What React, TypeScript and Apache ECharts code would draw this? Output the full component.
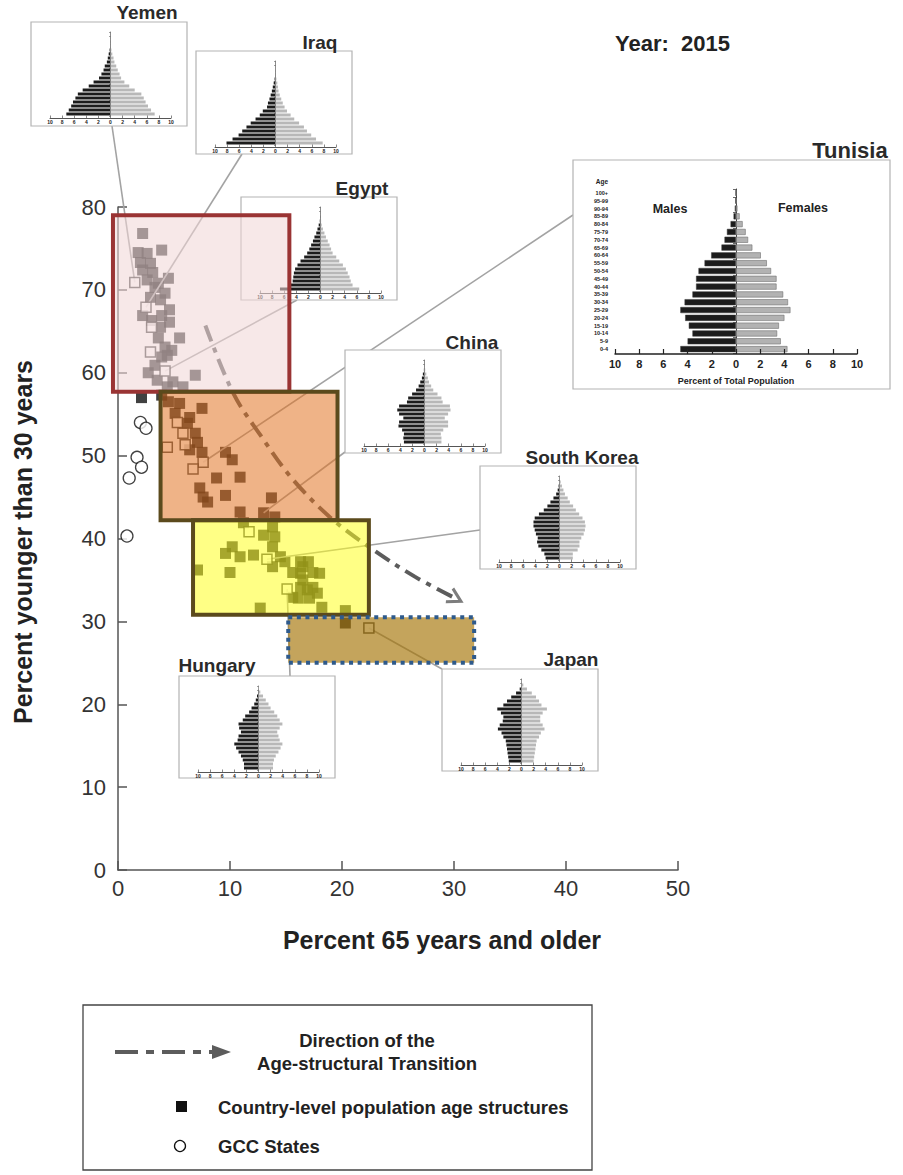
import React, { useEffect, useRef } from "react";
import * as echarts from "echarts";

const FONT = "'Liberation Sans', Arial, sans-serif";

const AGE_GROUPS = [
  "0-4", "5-9", "10-14", "15-19", "20-24", "25-29", "30-34", "35-39", "40-44", "45-49",
  "50-54", "55-59", "60-64", "65-69", "70-74", "75-79", "80-84", "85-89", "90-94", "95-99", "100+",
];

// [percent 65 and older, percent younger than 30]
const countryStructures: number[][] = [
  [2.2, 76.8], [3.9, 74.8], [1.8, 74.5], [2.6, 74.4], [2.0, 73.3], [2.9, 73.2], [2.2, 72.4],
  [3.1, 72.1], [4.5, 71.4], [2.6, 71.2], [3.6, 70.8], [4.2, 69.6], [2.9, 69.1], [3.3, 70.3],
  [3.8, 68.8], [2.2, 66.9], [4.6, 67.6], [3.9, 66.9], [3.0, 66.3], [4.6, 66.1], [3.8, 65.5],
  [5.5, 64.2], [3.6, 64.2], [4.2, 63.1], [4.8, 62.7], [3.9, 61.9], [4.4, 62.1], [2.7, 60.0],
  [3.3, 60.9], [6.9, 59.7], [3.5, 59.1], [4.9, 58.9], [4.4, 58.3], [5.8, 58.3],
  [2.1, 57.0], [3.9, 57.3],
  [4.5, 56.5], [5.5, 56.3], [7.5, 55.7], [5.1, 55.1], [6.4, 54.6], [6.2, 53.9], [6.9, 52.7],
  [7.1, 51.6], [7.5, 50.4], [6.4, 50.7], [9.6, 50.4], [10.2, 49.5], [8.8, 47.3], [10.9, 47.4],
  [7.3, 46.1], [7.6, 45.0], [8.0, 44.4], [9.6, 45.2], [13.7, 44.9], [10.9, 43.2], [13.0, 43.1],
  [14.0, 42.6],
  [11.2, 41.9], [13.8, 41.4], [13.0, 40.4], [14.0, 40.2], [10.2, 39.0], [9.6, 38.2], [10.9, 37.8],
  [12.1, 38.0], [13.8, 39.0], [14.5, 37.8], [13.8, 36.6], [14.9, 37.2], [16.3, 37.2], [16.5, 36.6],
  [17.0, 37.2], [17.4, 35.9], [18.0, 35.8], [16.3, 35.8], [15.6, 35.9], [16.5, 35.0], [17.4, 34.1],
  [16.9, 33.8], [16.3, 34.1], [17.8, 33.4], [17.1, 32.8], [16.1, 32.8], [15.6, 32.9], [18.2, 31.7],
  [7.1, 36.2], [10.0, 35.9], [12.7, 31.6], [20.3, 31.3],
  [20.3, 29.8],
];

// Countries shown as open squares (the profiled structures)
const profiledCountries: number[][] = [
  [1.5, 70.9], [2.5, 67.9], [3.0, 65.5], [2.9, 62.5], [4.2, 60.2],
  [5.3, 54.0], [5.8, 52.7], [6.0, 51.3], [4.4, 51.0], [7.6, 49.2], [6.7, 48.4],
  [11.7, 40.8], [13.3, 37.5], [15.1, 33.9], [22.4, 29.2],
];

const gccStates: number[][] = [
  [2.0, 54.0], [2.5, 53.3], [1.7, 49.8], [2.1, 48.6], [1.0, 47.3], [0.8, 40.3],
];

const transitionPath: number[][] = [
  [7.8, 65.7], [10.3, 57.5], [12.7, 52.5], [15.5, 47.3], [18.9, 42.6], [22.5, 38.9], [26.5, 35.4], [30.1, 32.8],
];

// Stage regions: [xMin, yMin, xMax, yMax]
const stageRegions: number[][] = [
  [-0.45, 57.7, 15.3, 79.0],
  [3.8, 42.2, 19.6, 57.7],
  [6.7, 30.8, 22.4, 42.2],
  [15.2, 25.0, 31.8, 30.5],
];
const stageFills = ["rgba(241,214,214,0.57)", "rgba(226,115,33,0.54)", "rgba(255,255,30,0.54)", "rgba(165,115,5,0.65)"];
const stageBorders = ["#9a3434", "#5b4a1c", "#5b4a1c", "#2e5a8c"];

// Population pyramids, percent of total population by five-year age group (0-4 .. 100+)
const yemenMales = [7.3, 6.9, 6.5, 6.2, 5.8, 5.4, 4.6, 3.6, 2.8, 1.9, 1.5, 1.15, 0.95, 0.6, 0.45, 0.3, 0.15, 0.08, 0.04, 0.02, 0.01];
const yemenFemales = [7.3, 6.7, 6.2, 5.8, 5.5, 5.1, 4.0, 3.1, 2.3, 1.75, 1.5, 1.2, 0.95, 0.65, 0.5, 0.3, 0.15, 0.08, 0.04, 0.02, 0.01];
const iraqMales = [8.1, 7.1, 6.1, 5.5, 4.8, 4.1, 3.3, 2.6, 2.1, 1.4, 1.25, 1.0, 0.8, 0.6, 0.45, 0.3, 0.15, 0.07, 0.03, 0.01, 0.01];
const iraqFemales = [7.8, 6.7, 5.9, 5.2, 4.7, 3.9, 3.1, 2.5, 1.9, 1.5, 1.2, 0.95, 0.7, 0.5, 0.4, 0.3, 0.15, 0.07, 0.03, 0.01, 0.01];
const egyptMales = [6.7, 4.9, 4.6, 4.5, 4.4, 4.2, 3.8, 3.3, 2.7, 2.2, 1.85, 1.55, 1.25, 1.0, 0.7, 0.5, 0.3, 0.12, 0.05, 0.02, 0.01];
const egyptFemales = [6.4, 5.3, 5.0, 4.8, 4.5, 4.2, 3.7, 3.1, 2.6, 2.0, 1.75, 1.5, 1.2, 0.9, 0.65, 0.4, 0.2, 0.1, 0.04, 0.02, 0.01];
const chinaMales = [3.4, 3.5, 3.4, 3.7, 4.3, 4.2, 3.5, 4.2, 4.5, 4.2, 2.9, 2.7, 2.05, 1.4, 0.97, 0.7, 0.43, 0.27, 0.1, 0.03, 0.01];
const chinaFemales = [2.8, 2.8, 2.7, 3.1, 3.9, 3.9, 3.35, 3.9, 4.3, 4.2, 3.0, 2.8, 2.15, 1.45, 1.1, 0.75, 0.55, 0.3, 0.12, 0.04, 0.01];
const koreaMales = [2.3, 2.5, 3.0, 3.5, 3.7, 3.6, 3.9, 4.1, 4.3, 4.3, 4.1, 3.4, 2.6, 2.0, 1.5, 1.0, 0.55, 0.3, 0.15, 0.05, 0.01];
const koreaFemales = [2.2, 2.2, 3.0, 3.3, 3.3, 3.6, 4.0, 4.2, 4.3, 4.2, 3.8, 3.25, 2.7, 2.25, 1.7, 1.35, 0.9, 0.65, 0.4, 0.2, 0.05];
const hungaryMales = [2.4, 2.4, 2.6, 2.9, 3.3, 3.7, 4.0, 3.45, 3.3, 2.9, 3.2, 3.3, 2.6, 2.2, 1.55, 1.15, 0.7, 0.45, 0.25, 0.08, 0.02];
const hungaryFemales = [2.4, 2.4, 2.55, 2.85, 3.3, 3.65, 3.95, 3.5, 3.3, 3.1, 3.5, 3.95, 3.5, 3.1, 2.6, 2.0, 1.65, 1.2, 0.75, 0.3, 0.08];
const japanMales = [2.1, 2.2, 2.3, 2.4, 2.5, 2.6, 3.0, 3.3, 3.9, 3.6, 3.1, 3.0, 3.4, 4.0, 3.0, 2.4, 1.7, 0.9, 0.3, 0.05, 0.01];
const japanFemales = [2.0, 2.1, 2.2, 2.3, 2.4, 2.5, 2.9, 3.2, 3.8, 3.5, 3.1, 3.1, 3.5, 4.2, 3.3, 2.9, 2.4, 1.7, 0.9, 0.3, 0.05];
const tunisiaMales = [4.6, 4.0, 3.6, 3.9, 4.2, 4.6, 4.25, 3.6, 3.3, 3.3, 3.1, 2.6, 2.05, 1.2, 0.95, 0.75, 0.45, 0.2, 0.1, 0.06, 0.03];
const tunisiaFemales = [4.25, 3.7, 3.4, 3.55, 4.0, 4.5, 4.3, 3.9, 3.35, 3.35, 2.9, 2.55, 2.05, 1.35, 1.0, 0.8, 0.55, 0.3, 0.12, 0.06, 0.03];

type Panel = {
  name: string;
  males: number[];
  females: number[];
  box: number[];
  label: number[];
  anchor: number[];
  target: number[];
  large?: boolean;
};

const pyramidPanels: Panel[] = [
  { name: "Yemen", males: yemenMales, females: yemenFemales, box: [31, 22, 156, 104], label: [147, 12], anchor: [112, 126], target: profiledCountries[0] },
  { name: "Iraq", males: iraqMales, females: iraqFemales, box: [196, 51, 156, 103], label: [320, 42], anchor: [242, 154], target: profiledCountries[1] },
  { name: "Egypt", males: egyptMales, females: egyptFemales, box: [241, 197, 156, 103], label: [362, 188], anchor: [297, 300], target: profiledCountries[4] },
  { name: "China", males: chinaMales, females: chinaFemales, box: [345, 350, 156, 103], label: [472, 342], anchor: [345, 452], target: countryStructures[56] },
  { name: "South Korea", males: koreaMales, females: koreaFemales, box: [480, 466, 156, 103], label: [582, 457], anchor: [480, 530], target: profiledCountries[12] },
  { name: "Hungary", males: hungaryMales, females: hungaryFemales, box: [179, 676, 156, 102], label: [217, 665], anchor: [290, 676], target: profiledCountries[13] },
  { name: "Japan", males: japanMales, females: japanFemales, box: [442, 669, 156, 102], label: [571, 659], anchor: [442, 669], target: profiledCountries[14] },
  { name: "Tunisia", males: tunisiaMales, females: tunisiaFemales, box: [573, 160, 317, 229], label: [850, 150], anchor: [573, 215], target: profiledCountries[9], large: true },
];

function buildOption() {
  const grids: any[] = [{ left: 118, top: 207, width: 560, height: 663 }];
  const xAxes: any[] = [
    {
      gridIndex: 0, type: "value", min: 0, max: 50, interval: 10,
      axisLine: { show: true, lineStyle: { color: "#555", width: 1.5 } },
      axisTick: { show: true, inside: true, length: 9, lineStyle: { color: "#555", width: 1.5 } },
      axisLabel: { fontSize: 22, color: "#333", margin: 7, fontFamily: FONT },
      splitLine: { show: false },
    },
  ];
  const yAxes: any[] = [
    {
      gridIndex: 0, type: "value", min: 0, max: 80, interval: 10,
      axisLine: { show: true, lineStyle: { color: "#555", width: 1.5 } },
      axisTick: { show: true, inside: true, length: 9, lineStyle: { color: "#555", width: 1.5 } },
      axisLabel: { fontSize: 22, color: "#333", margin: 12, fontFamily: FONT },
      splitLine: { show: false },
    },
  ];

  const series: any[] = [
    {
      type: "scatter", name: "Country-level population age structures", xAxisIndex: 0, yAxisIndex: 0,
      data: countryStructures, symbol: "rect", symbolSize: 11, itemStyle: { color: "#111" }, z: 3,
    },
    {
      type: "scatter", name: "GCC States", xAxisIndex: 0, yAxisIndex: 0,
      data: gccStates, symbol: "circle", symbolSize: 12,
      itemStyle: { color: "#fff", borderColor: "#111", borderWidth: 1.3 }, z: 3,
    },
    {
      type: "custom", name: "leaders", xAxisIndex: 0, yAxisIndex: 0, clip: false, z: 4, silent: true,
      data: pyramidPanels.map((p, i) => [p.target[0], p.target[1], i]),
      renderItem: (_params: any, api: any) => {
        const pt = api.coord([api.value(0), api.value(1)]);
        const a = pyramidPanels[api.value(2)].anchor;
        return {
          type: "line",
          shape: { x1: a[0], y1: a[1], x2: pt[0], y2: pt[1] },
          style: { stroke: "#a3a3a3", lineWidth: 1.6 },
        };
      },
    },
    {
      type: "scatter", name: "profiled", xAxisIndex: 0, yAxisIndex: 0,
      data: profiledCountries, symbol: "rect", symbolSize: 10,
      itemStyle: { color: "#fff", borderColor: "#222", borderWidth: 1.5 }, z: 4.5,
    },
    {
      type: "line", name: "Direction", xAxisIndex: 0, yAxisIndex: 0,
      data: transitionPath, smooth: 0.35, symbol: "none",
      lineStyle: { color: "#5c5c5c", width: 4, type: [17, 7, 5, 7] }, z: 5,
    },
    {
      type: "scatter", name: "arrowhead", xAxisIndex: 0, yAxisIndex: 0,
      data: [transitionPath[transitionPath.length - 1]],
      symbol: "path://M0,0L12,7L0,14", symbolSize: [13, 15], symbolRotate: -28,
      itemStyle: { color: "rgba(0,0,0,0)", borderColor: "#5c5c5c", borderWidth: 3 }, z: 5,
    },
    {
      type: "custom", name: "stages", xAxisIndex: 0, yAxisIndex: 0, clip: false, z: 8, silent: true,
      data: stageRegions.map((r, i) => [r[0], r[1], r[2], r[3], i]),
      encode: { x: [0, 2], y: [1, 3] },
      renderItem: (_params: any, api: any) => {
        const i = api.value(4);
        const p1 = api.coord([api.value(0), api.value(3)]);
        const p2 = api.coord([api.value(2), api.value(1)]);
        return {
          type: "rect",
          shape: { x: p1[0], y: p1[1], width: p2[0] - p1[0], height: p2[1] - p1[1] },
          style: {
            fill: stageFills[i],
            stroke: stageBorders[i],
            lineWidth: 4,
            lineDash: i === 3 ? [4, 4.6] : null,
          },
        };
      },
    },
  ];

  const graphics: any[] = [];

  pyramidPanels.forEach((p) => {
    const [bx, by, bw, bh] = p.box;
    const large = !!p.large;
    const gi = grids.length;
    if (large) {
      grids.push({ left: bx + 42, top: by + 29, width: 242, height: 164 });
    } else {
      grids.push({ left: bx + 19, top: by + 10, width: 121, height: 84 });
    }
    const axisColor = large ? "#222" : "#555";
    xAxes.push({
      gridIndex: gi, type: "value", min: -10, max: 10, interval: 2, z: 7,
      position: "bottom",
      offset: large ? 1 : 2,
      name: large ? "Percent of Total Population" : "",
      nameLocation: "middle", nameGap: 22,
      nameTextStyle: { fontSize: 9, fontWeight: "bold", color: "#222", fontFamily: FONT },
      axisLine: { show: true, lineStyle: { color: axisColor, width: large ? 1.5 : 1 } },
      axisTick: { show: true, inside: true, length: large ? 5 : 2.5, lineStyle: { color: axisColor, width: large ? 1.2 : 0.7 } },
      axisLabel: {
        fontSize: large ? 11 : 5, fontWeight: "bold", color: "#222", margin: large ? 4 : 1.5, fontFamily: FONT,
        formatter: (v: number) => String(Math.abs(v)),
      },
      splitLine: { show: false },
    });
    const yi = yAxes.length;
    yAxes.push({
      gridIndex: gi, type: "category", data: AGE_GROUPS, z: 5.5,
      axisLine: { show: true, onZero: true, lineStyle: { color: "#444", width: large ? 1 : 0.6 } },
      axisTick: { show: true, length: large ? 3 : 1.5, lineStyle: { color: "#444", width: large ? 0.8 : 0.5 } },
      axisLabel: { show: false },
      splitLine: { show: false },
    });
    if (large) {
      yAxes.push({
        gridIndex: gi, type: "category", data: AGE_GROUPS, position: "left", z: 7,
        axisLine: { show: false, onZero: false },
        axisTick: { show: false },
        axisLabel: { fontSize: 5.5, fontWeight: "bold", color: "#222", margin: 7, fontFamily: FONT },
        splitLine: { show: false },
      });
    }
    series.push({
      type: "bar", name: p.name + " males", xAxisIndex: gi, yAxisIndex: yi,
      data: p.males.map((v) => -v), barGap: "-100%", barCategoryGap: large ? "22%" : "25%",
      itemStyle: { color: "#1c1c1c", borderColor: "#3a3a3a", borderWidth: large ? 0.5 : 0 }, z: 6, silent: true,
    });
    series.push({
      type: "bar", name: p.name + " females", xAxisIndex: gi, yAxisIndex: yi,
      data: p.females, barGap: "-100%", barCategoryGap: large ? "22%" : "25%",
      itemStyle: { color: large ? "#b2b2b2" : "#b8b8b8", borderColor: "#707070", borderWidth: large ? 0.6 : 0 }, z: 6, silent: true,
    });

    graphics.push({
      type: "rect", z: 5, silent: true,
      shape: { x: bx, y: by, width: bw, height: bh },
      style: { fill: "#fff", stroke: "#b3b3b3", lineWidth: 1.2 },
    });
    graphics.push({
      type: "text", z: 9, x: p.label[0], y: p.label[1],
      style: {
        text: p.name, fontSize: large ? 22 : 19, fontWeight: "bold", fill: "#2a2a2a", fontFamily: FONT,
        align: "center", verticalAlign: "middle",
      },
    });
    if (large) {
      graphics.push({ type: "text", z: 9, x: 602, y: 181, style: { text: "Age", fontSize: 6.5, fontWeight: "bold", fill: "#222", fontFamily: FONT, align: "center", verticalAlign: "middle" } });
      graphics.push({ type: "text", z: 9, x: 670, y: 209, style: { text: "Males", fontSize: 12.5, fontWeight: "bold", fill: "#222", fontFamily: FONT, align: "center", verticalAlign: "middle" } });
      graphics.push({ type: "text", z: 9, x: 803, y: 208, style: { text: "Females", fontSize: 12.5, fontWeight: "bold", fill: "#222", fontFamily: FONT, align: "center", verticalAlign: "middle" } });
    }
  });

  // Axis titles
  graphics.push(
    {
      type: "text", z: 9, x: 442, y: 940,
      style: { text: "Percent 65 years and older", fontSize: 25, fontWeight: "bold", fill: "#222", fontFamily: FONT, align: "center", verticalAlign: "middle" },
    },
    {
      type: "text", z: 9, x: 23, y: 542, rotation: Math.PI / 2,
      style: { text: "Percent younger than 30 years", fontSize: 25, fontWeight: "bold", fill: "#222", fontFamily: FONT, align: "center", verticalAlign: "middle" },
    },
  );

  // Year caption
  graphics.push({
    type: "text", z: 9, x: 615, y: 43,
    style: { text: "Year:  2015", fontSize: 22, fontWeight: "bold", fill: "#222", fontFamily: FONT, align: "left", verticalAlign: "middle" },
  });

  // Legend
  const legendText = { fontSize: 18.5, fontWeight: "bold", fill: "#222", fontFamily: FONT, verticalAlign: "middle" };
  graphics.push(
    { type: "rect", z: 9, shape: { x: 83, y: 1005, width: 509, height: 165 }, style: { fill: "#fff", stroke: "#444", lineWidth: 1.3 } },
    { type: "line", z: 10, shape: { x1: 115, y1: 1052, x2: 214, y2: 1052 }, style: { stroke: "#5c5c5c", lineWidth: 4, lineDash: [23, 8, 8, 8] } },
    { type: "polygon", z: 10, shape: { points: [[212, 1045], [231, 1052], [212, 1059]] }, style: { fill: "#5c5c5c" } },
    { type: "text", z: 10, x: 367, y: 1040, style: { ...legendText, text: "Direction of the", align: "center" } },
    { type: "text", z: 10, x: 367, y: 1063, style: { ...legendText, text: "Age-structural Transition", align: "center" } },
    { type: "rect", z: 10, shape: { x: 176, y: 1101, width: 11, height: 11 }, style: { fill: "#111" } },
    { type: "text", z: 10, x: 218, y: 1107, style: { ...legendText, text: "Country-level population age structures", align: "left" } },
    { type: "circle", z: 10, shape: { cx: 180, cy: 1146, r: 5.5 }, style: { fill: "#fff", stroke: "#111", lineWidth: 1.3 } },
    { type: "text", z: 10, x: 218, y: 1146, style: { ...legendText, text: "GCC States", align: "left" } },
  );

  return {
    animation: false,
    backgroundColor: "#fff",
    textStyle: { fontFamily: FONT },
    grid: grids,
    xAxis: xAxes,
    yAxis: yAxes,
    series,
    graphic: graphics,
  };
}

export default function App() {
  const ref = useRef<HTMLDivElement>(null);
  useEffect(() => {
    if (!ref.current) return;
    const chart = echarts.init(ref.current, null, { renderer: "svg" });
    chart.setOption(buildOption() as any);
    return () => chart.dispose();
  }, []);
  return <div ref={ref} style={{ position: "absolute", left: 0, top: 0, width: 903, height: 1175 }} />;
}
